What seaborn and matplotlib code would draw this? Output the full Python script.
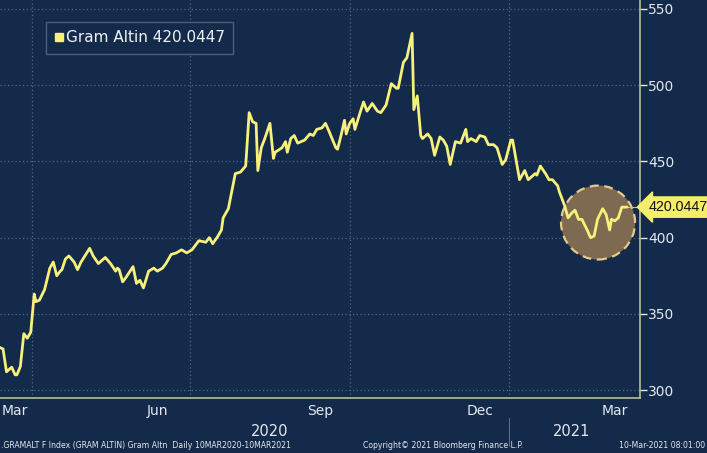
import numpy as np
import pandas as pd
import matplotlib
matplotlib.use("Agg")
import matplotlib.pyplot as plt
import matplotlib.dates as mdates
from matplotlib.patches import Ellipse
from matplotlib.lines import Line2D
import matplotlib.transforms as mtransforms
import seaborn as sns

# ---- data ----
start_date = "2020-03-10"
day_offsets = [0, 3, 5, 7, 10, 12, 13, 15, 17, 19, 21, 23, 24, 26, 29, 32, 34, 36, 38, 39,
               41, 43, 46, 48, 50, 55, 57, 60, 64, 67, 70, 71, 72, 74, 76, 80, 82, 84, 86, 89,
               92, 94, 97, 99, 102, 105, 108, 111, 114, 118, 122, 124, 126, 129, 131, 132, 135, 139, 142, 145,
               147, 149, 151, 152, 154, 156, 159, 161, 162, 166, 168, 169, 171, 173, 175, 179, 182, 184, 186, 189,
               191, 193, 197, 198, 200, 202, 203, 205, 207, 208, 211, 213, 215, 218, 221, 223, 226, 229, 232, 233,
               236, 238, 241, 242, 244, 246, 247, 250, 252, 254, 257, 259, 261, 263, 266, 269, 272, 273, 275, 278,
               280, 283, 285, 288, 290, 293, 295, 298, 299, 301, 303, 306, 308, 312, 313, 315, 318, 320, 322, 325,
               326, 329, 331, 333, 335, 337, 339, 342, 344, 346, 348, 351, 353, 355, 356, 358, 360, 362, 365]
prices = [328, 328, 327, 312, 315, 310, 310, 315.5, 337, 334, 338, 363, 358, 359, 366, 380, 384, 375, 378, 379,
          386, 388, 384, 379, 384, 393, 388, 383, 387, 383, 378, 380, 379, 371, 374, 381, 370, 372, 367, 378,
          380, 378, 380, 383, 389, 390, 392, 390, 392, 398, 397, 400, 396, 401, 405, 413, 419, 442, 443, 447,
          482, 476, 475, 444, 459, 465, 475, 452, 456, 459, 463, 456, 465, 467, 462, 464, 468, 467, 471, 472,
          475, 470, 459, 458, 467, 477, 468, 475, 478, 471, 482, 489, 483, 488, 483, 482, 487, 501, 498, 498,
          515, 518, 534, 484, 493, 467, 465, 468, 465, 454, 466, 464, 460, 448, 463, 462, 471, 463, 465, 463,
          467, 466, 461, 461, 459, 448, 451, 464, 464, 451, 438, 444, 438, 442, 441, 447, 442, 438, 438, 434,
          430, 421, 413, 416, 418, 412, 412, 405, 400, 401, 412, 419, 415, 405, 412, 411, 413, 420, 420.0447]
series_name = "Gram Altin"
last_value = "420.0447"
y_ticks = [300, 350, 400, 450, 500, 550]
month_labels = ["Mar", "Jun", "Sep", "Dec", "Mar"]
month_label_dates = ["2020-03-22", "2020-06-12", "2020-09-14", "2020-12-15", "2021-03-03"]
year_labels = ["2020", "2021"]
year_label_dates = ["2020-08-16", "2021-02-06"]
footer_left = ".GRAMALT F Index (GRAM ALTIN) Gram Altn  Daily 10MAR2020-10MAR2021"
footer_mid = "Copyright\u00a9 2021 Bloomberg Finance L.P."
footer_right = "10-Mar-2021 08:01:00"

dates = pd.Timestamp(start_date) + pd.to_timedelta(day_offsets, unit="D")
df = pd.DataFrame({"date": dates, "price": prices})

BG = "#132a4a"
LINE = "#f7f07a"
GRID = "#506888"
TXT = "#e4e8ee"

sns.set_theme(style="dark")
plt.rcParams["font.family"] = ["DejaVu Sans"]

fig = plt.figure(figsize=(7.07, 4.53), dpi=100, facecolor=BG)
ax = fig.add_axes([0, 55 / 453, 640 / 707, 398 / 453])
ax.set_facecolor(BG)

sns.lineplot(data=df, x="date", y="price", ax=ax, color=LINE, linewidth=2.0, zorder=5, legend=False)

# axis ranges
x0 = pd.Timestamp(start_date) + pd.Timedelta(days=3.25)
x1 = pd.Timestamp(start_date) + pd.Timedelta(days=372.5)
ax.set_xlim(x0, x1)
ax.set_ylim(294.8, 555.9)

# y axis on right
ax.yaxis.tick_right()
ax.set_yticks(y_ticks)
ax.set_yticklabels([str(v) for v in y_ticks], color=TXT, fontsize=10)
ax.tick_params(axis="y", which="major", length=5, width=1, color=TXT, pad=1, direction="out")

# x axis: month boundaries as small ticks, labels at mid-month
month_starts = pd.date_range("2020-04-01", "2021-03-01", freq="MS")
ax.set_xticks(mdates.date2num(month_starts), minor=True)
ax.set_xticks(mdates.date2num(pd.to_datetime(month_label_dates)))
ax.set_xticklabels(month_labels, color=TXT, fontsize=10)
ax.tick_params(axis="x", which="major", length=0, pad=4)
ax.tick_params(axis="x", which="minor", length=3, width=1, color="#9aa6b8", direction="out")
ax.set_xlabel("")
ax.set_ylabel("")

# grid
ax.grid(False)
for v in y_ticks:
    ax.axhline(v, color=GRID, linestyle=(0, (1, 2)), linewidth=0.9, zorder=1)
for d in pd.to_datetime(["2020-04-01", "2020-07-01", "2020-10-01", "2021-01-01"]):
    ax.axvline(d, color=GRID, linestyle=(0, (1, 2)), linewidth=0.9, zorder=1)

# spines
for s in ["top", "left"]:
    ax.spines[s].set_visible(False)
ax.spines["right"].set_color("#b5bf98")
ax.spines["bottom"].set_color("#b5bf98")
ax.spines["right"].set_linewidth(1.2)
ax.spines["bottom"].set_linewidth(1.2)

# highlight circle
cx = mdates.date2num(pd.Timestamp(start_date) + pd.Timedelta(days=348.3))
circ = Ellipse((cx, 409.9), width=42.7, height=48.5, facecolor="#7d6a50",
               edgecolor="#e8c98c", linestyle=(0, (4, 2.5)), linewidth=1.6, zorder=3)
ax.add_patch(circ)

# leader line from last point to label
ax.plot([df["date"].iloc[-1], x1], [prices[-1], prices[-1]], color="#c9c27a", linewidth=0.8,
        zorder=4, clip_on=False)

# last-value label
ax.annotate(last_value, xy=(1.0, prices[-1]), xycoords=("axes fraction", "data"),
            xytext=(6, 0), textcoords="offset points", va="center", ha="left",
            fontsize=10.3, color="#111111", family="Liberation Sans",
            bbox=dict(boxstyle="larrow,pad=0.22", fc="#f5ee6a", ec="#f5ee6a"),
            annotation_clip=False, zorder=10)

# legend
handle = Line2D([], [], marker="s", linestyle="none", markersize=6,
                markerfacecolor=LINE, markeredgecolor=LINE)
leg = ax.legend([handle], [f"{series_name} {last_value}"], loc="upper left",
                bbox_to_anchor=(46 / 640, 1 - 22 / 398), frameon=True, fancybox=False,
                fontsize=11, handlelength=0.6, handletextpad=0.15, borderpad=0.55,
                borderaxespad=0)
leg.get_frame().set_facecolor(BG)
leg.get_frame().set_edgecolor("#5d6c80")
leg.get_frame().set_linewidth(1.0)
for t in leg.get_texts():
    t.set_color("#f0f2f5")

# year labels and separator
trans = mtransforms.blended_transform_factory(ax.transData, ax.transAxes)
for lbl, d in zip(year_labels, year_label_dates):
    ax.text(mdates.date2num(pd.Timestamp(d)), -0.085, lbl, transform=trans, ha="center",
            va="center", color=TXT, fontsize=10.5, clip_on=False)
sep = mdates.date2num(pd.Timestamp("2021-01-01"))
ax.plot([sep, sep], [-0.05, -0.12], transform=trans, color="#5d6c80", linewidth=0.8, clip_on=False)

# footer
fig.text(0.002, 7 / 453, footer_left, color=TXT, fontsize=5.6, ha="left", va="center")
fig.text(443 / 707, 7 / 453, footer_mid, color=TXT, fontsize=5.6, ha="center", va="center")
fig.text(0.998, 7 / 453, footer_right, color=TXT, fontsize=5.6, ha="right", va="center")

fig.savefig("out.png", dpi=100, facecolor=BG)
